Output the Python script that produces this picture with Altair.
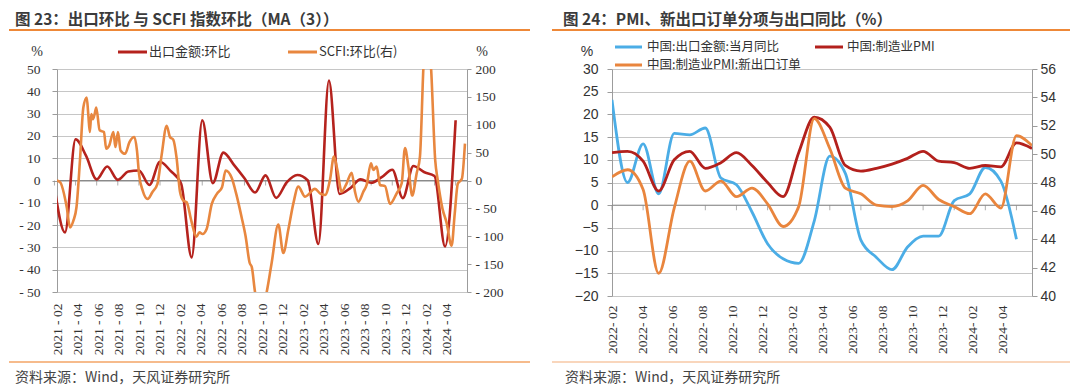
import altair as alt
import pandas as pd

CJK = "Noto Sans CJK SC"
SERIF = "Liberation Serif"
SANS = "Liberation Sans"

# ---------------- 图23 data ----------------
# export value MoM, monthly 2021-01 .. 2024-03
exp_months = [str(p) for p in pd.period_range("2021-01", "2024-03", freq="M")]
exp_mom = [-3, -23.3, 18.5, 11, 0.5, 6.3, 0.3, 4, 4.5, -2, 8.4, 4.3, -1.5, -34.5, 27,
           -1.2, 12.5, 7, 1, -5.4, 2.3, -7.8, -0.8, 2.5, 0, -28.5, 44.8, -6, -3.5,
           0.5, -1, 1.5, 4.8, -7.9, 6.5, 3.8, 2, -29.6, 27]
# SCFI MoM (MA3), weekly readings; t = months on the axis since 2021-02
scfi_t = [-0.03, 0.3, 0.95, 1.27, 1.6, 1.9, 2.24, 2.57, 2.9, 3.05, 3.2, 3.35, 3.5, 3.67,
          3.83, 4.16, 4.58, 4.8, 5.1, 5.5, 5.7, 5.95, 6.2, 6.65, 7.07, 7.56, 7.8, 8.0,
          8.36, 8.85, 9.3, 9.8, 10.21, 10.7, 11.02, 11.35, 11.67, 12.0, 12.33, 12.65,
          13.1, 13.6, 13.9, 14.2, 14.6, 15.1, 15.6, 16.1, 16.45, 17.04, 17.5, 18.0,
          18.4, 18.8, 19.0, 19.32, 19.9, 20.46, 20.94, 21.59, 22.08, 22.57, 23.06,
          23.54, 24.2, 25.17, 25.66, 26.15, 26.63, 27.02, 27.35, 27.77, 28.26, 28.75,
          29.07, 29.4, 29.89, 30.21, 30.63, 30.86, 31.19, 31.51, 32.0, 32.49, 33.14,
          33.63, 33.95, 34.28, 34.65, 35.09, 35.41, 35.74, 36.05, 36.5, 36.9, 37.15,
          37.6, 38.0, 38.5, 38.8, 39.1, 39.5, 39.8]
scfi_mom = [0, -3, -48, -84, -72, -48, 36, 131, 149, 119, 87, 119, 110, 119,
            131, 90, 87, 57, 63, 87, 60, 87, 54, 48, 69, 78, 54, 12,
            -18, -33, -21, -6, 46, 98, 78, 73, 40, -20, -36, -39,
            -72, -101, -93, -96, -87, -42, -24, -12, 18, 5, -25, -65,
            -100, -148, -155, -200, -240, -200, -148, -79, -130, -88, -41,
            -11, -29, -15, -23, -26, 1, 43, 19, -20, -5, 14,
            -20, -38, -20, -8, 31, 19, 25, -8, -10, -42, -23,
            -5, 58, 25, -27, 13, 43, 200, 300, 200, 36, 0,
            -50, -75, -117, -60, -6, 3, 66]
p1_labels = ["2021 - 02", "2021 - 04", "2021 - 06", "2021 - 08", "2021 - 10", "2021 - 12",
             "2022 - 02", "2022 - 04", "2022 - 06", "2022 - 08", "2022 - 10", "2022 - 12",
             "2023 - 02", "2023 - 04", "2023 - 06", "2023 - 08", "2023 - 10", "2023 - 12",
             "2024 - 02", "2024 - 04"]

# ---------------- 图24 data ----------------
p2_months = [str(p) for p in pd.period_range("2022-01", "2024-04", freq="M")]
pmi = [50.1, 50.2, 49.5, 47.4, 49.6, 50.2, 49.0, 49.4, 50.1, 49.2, 48.0, 47.0, 50.1, 52.6,
       51.9, 49.2, 48.8, 49.0, 49.3, 49.7, 50.2, 49.5, 49.4, 49.0, 49.2, 49.1, 50.8, 50.4]
pmi_neo = [48.4, 48.9, 47.5, 41.6, 46.2, 49.5, 47.4, 48.1, 47.0, 47.6, 46.5, 44.9, 46.3, 52.5,
           50.4, 47.6, 47.2, 46.4, 46.3, 46.7, 47.8, 46.8, 46.3, 45.8, 47.2, 46.2, 51.3, 50.6]
export_yoy = [23.2, 5, 13.5, 2.5, 15.8, 15.5, 17, 6, 4.5, -1.5, -8.5, -11.8, -12.8, -3.5,
              10.8, 7, -7.7, -11.5, -14.2, -9.2, -6.8, -6.8, 1, 2.5, 8.3, 5.3, -7.5]
p2_labels = ["2022- 02", "2022- 04", "2022- 06", "2022- 08", "2022- 10", "2022- 12",
             "2023- 02", "2023- 04", "2023- 06", "2023- 08", "2023- 10", "2023- 12",
             "2024- 02", "2024- 04"]

# month positions on each axis (axis unit = one label month)
P1_FIRST, P1_STEP = -0.25, 1.03
P2_FIRST, P2_STEP = 0.0, 28 / 27

RED1, ORG1 = "#B5221D", "#E8873F"
BLUE2, RED2, ORG2 = "#4BADE6", "#B3201C", "#E9853D"
GRID, AXC, ZERO = "#c6c6c6", "#9c9c9c", "#8a8a8a"
TXT = "#333333"
ONE = pd.DataFrame({"a": [0]})


def label(text, x, y, font=CJK, size=13, weight="normal", color=TXT, align="left"):
    return alt.Chart(ONE).mark_text(font=font, fontSize=size, fontWeight=weight, color=color,
                                    align=align, baseline="middle").encode(
        x=alt.value(x), y=alt.value(y), text=alt.value(text))


def hline(x1, x2, y, color, width):
    return alt.Chart(ONE).mark_rule(color=color, strokeWidth=width).encode(
        x=alt.value(x1), x2=alt.value(x2), y=alt.value(y))


def label_expr(labels):
    arr = ",".join("'" + s + "'" for s in labels)
    return "[" + arr + "][round(datum.value / 2)]"


# ================= Panel 1 =================
W1, H1 = 410, 223
df_exp = pd.DataFrame({"month": exp_months,
                       "pos": [P1_FIRST + P1_STEP * i for i in range(len(exp_months))],
                       "val": exp_mom})
df_scfi = pd.DataFrame({"pos": scfi_t, "v": scfi_mom})
df_tick1 = pd.DataFrame({"pos": df_exp["pos"].iloc[::2].tolist(), "val": 0})
df_zero1 = pd.DataFrame({"val": [0]})

x1 = alt.X("pos:Q", scale=alt.Scale(domain=[0, 40], nice=False, zero=False),
           axis=alt.Axis(values=[2 * i for i in range(len(p1_labels))],
                         labelExpr=label_expr(p1_labels), labelAngle=-90, ticks=False,
                         tickSize=0, domain=False, grid=False, title=None, labelFont=SERIF,
                         labelFontSize=13.5, labelColor=TXT, labelPadding=11,
                         labelFlush=False, labelOverlap=False))
y1 = alt.Y("val:Q", scale=alt.Scale(domain=[-50, 50], nice=False, zero=False),
           axis=alt.Axis(orient="left", values=list(range(-50, 51, 10)), grid=True,
                         gridColor=GRID, domainColor=AXC, tickColor=AXC, tickSize=5,
                         labelPadding=12, labelFont=SERIF, labelFontSize=13.5,
                         labelColor=TXT, title=None,
                         labelExpr="datum.value < 0 ? '- ' + format(-datum.value, 'd') : format(datum.value, 'd')"))
y1r = alt.Y("v:Q", scale=alt.Scale(domain=[-200, 200], nice=False, zero=False),
            axis=alt.Axis(orient="right", values=list(range(-200, 201, 50)), grid=False,
                          domainColor=AXC, tickColor=AXC, tickSize=4, labelPadding=4,
                          labelFont=SERIF, labelFontSize=13.5, labelColor=TXT, title=None,
                          labelExpr="datum.value < 0 ? '- ' + format(-datum.value, 'd') : format(datum.value, 'd')"))

zero1 = alt.Chart(df_zero1).mark_rule(color=ZERO, strokeWidth=1).encode(y=y1)
ticks1 = alt.Chart(df_tick1).mark_tick(orient="vertical", size=5, thickness=1, color=ZERO,
                                       yOffset=2.5).encode(x=x1, y=y1)
red1 = alt.Chart(df_exp).mark_line(color=RED1, strokeWidth=2.6, interpolate="monotone",
                                   clip=True).encode(x=x1, y=y1)
left1 = alt.layer(zero1, ticks1, red1)
org1 = alt.Chart(df_scfi).mark_line(color=ORG1, strokeWidth=2.6, interpolate="monotone",
                                    clip=True).encode(x=x1, y=y1r)

anchor = alt.Chart(ONE).mark_rule(opacity=0, strokeWidth=0.01).encode(
    x=alt.value(-49), x2=alt.value(-45), y=alt.value(-61), y2=alt.value(-61))

deco1 = [
    anchor,
    label("图 23：出口环比 与 SCFI 指数环比（MA（3））", -42, -49, size=15.5, weight="bold",
          color="#3b3b3b"),
    hline(-48, 473, -39, "#EE8838", 2),
    label("%", -20, -17, font=SERIF, size=14, align="center"),
    label("%", 425, -17, font=SERIF, size=14, align="center"),
    hline(61, 90, -17, RED1, 3),
    label("出口金额:环比", 92, -17),
    hline(231, 260, -17, ORG1, 3),
    label("SCFI:环比(右)", 262, -17),
    hline(-48, 473, 293, "#F3A466", 1.6),
    label("资料来源：Wind，天风证券研究所", -42, 309, size=14, color="#444444"),
]

panel1 = alt.layer(left1, org1, *deco1).resolve_scale(y="independent").properties(
    width=W1, height=H1)

# ================= Panel 2 =================
W2, H2 = 420, 227
pos2 = [P2_FIRST + P2_STEP * i for i in range(len(p2_months))]
df_pmi = pd.DataFrame({"month": p2_months, "pos": pos2, "v": pmi, "s": "pmi"})
df_neo = pd.DataFrame({"month": p2_months, "pos": pos2, "v": pmi_neo, "s": "neo"})
df_yoy = pd.DataFrame({"month": p2_months[:len(export_yoy)], "pos": pos2[:len(export_yoy)],
                       "val": export_yoy})
df_tick2 = pd.DataFrame({"pos": pos2[::2], "val": 0})
df_zero2 = pd.DataFrame({"val": [0]})

x2 = alt.X("pos:Q", scale=alt.Scale(domain=[0, 28], nice=False, zero=False),
           axis=alt.Axis(values=[2 * i for i in range(len(p2_labels))],
                         labelExpr=label_expr(p2_labels), labelAngle=-90, ticks=False,
                         tickSize=0, domain=False, grid=False, title=None, labelFont=SERIF,
                         labelFontSize=13.5, labelColor=TXT, labelPadding=9,
                         labelFlush=False, labelOverlap=False))
y2 = alt.Y("val:Q", scale=alt.Scale(domain=[-20, 30], nice=False, zero=False),
           axis=alt.Axis(orient="left", values=list(range(-20, 31, 5)), grid=True,
                         gridColor=GRID, domainColor=AXC, tickColor=AXC, tickSize=5,
                         labelPadding=9, labelFont=SANS, labelFontSize=14,
                         labelColor=TXT, title=None))
y2r = alt.Y("v:Q", scale=alt.Scale(domain=[40, 56], nice=False, zero=False),
            axis=alt.Axis(orient="right", values=list(range(40, 57, 2)), grid=False,
                          domainColor=AXC, tickColor=AXC, tickSize=5, labelPadding=3,
                          labelFont=SANS, labelFontSize=14, labelColor=TXT, title=None))

zero2 = alt.Chart(df_zero2).mark_rule(color=ZERO, strokeWidth=1).encode(y=y2)
ticks2 = alt.Chart(df_tick2).mark_tick(orient="vertical", size=5, thickness=1, color=ZERO,
                                       yOffset=2.5).encode(x=x2, y=y2)
blue2 = alt.Chart(df_yoy).mark_line(color=BLUE2, strokeWidth=2.8, interpolate="monotone",
                                    clip=True).encode(x=x2, y=y2)
left2 = alt.layer(zero2, ticks2, blue2)
red2 = alt.Chart(df_pmi).mark_line(color=RED2, strokeWidth=2.8, interpolate="monotone",
                                   clip=True).encode(x=x2, y=y2r)
org2 = alt.Chart(df_neo).mark_line(color=ORG2, strokeWidth=2.8, interpolate="monotone",
                                   clip=True).encode(x=x2, y=y2r)
right2 = alt.layer(red2, org2)

deco2 = [
    label("图 24：PMI、新出口订单分项与出口同比（%）", -49, -49, size=15.5, weight="bold",
          color="#3b3b3b"),
    hline(-60, 458, -39, "#EE8838", 2),
    label("%", -25, -17, font=SANS, size=14, align="center"),
    hline(3, 30, -22, BLUE2, 3),
    label("中国:出口金额:当月同比", 35, -22, size=12.5),
    hline(203, 231, -22, RED2, 3),
    label("中国:制造业PMI", 235, -22, size=12.5),
    hline(3, 30, -4, ORG2, 3),
    label("中国:制造业PMI:新出口订单", 35, -4, size=12.5),
    hline(-60, 458, 293, "#F7C9A6", 1.6),
    label("资料来源：Wind，天风证券研究所", -47, 309, size=14, color="#444444"),
]

panel2 = alt.layer(left2, right2, *deco2).resolve_scale(y="independent").properties(
    width=W2, height=H2)

chart = alt.hconcat(panel1, panel2, spacing=145, bounds="flush").properties(
    padding=0).configure_view(stroke=None)

chart.save("out.html", embed_options={"renderer": "svg", "actions": False})
